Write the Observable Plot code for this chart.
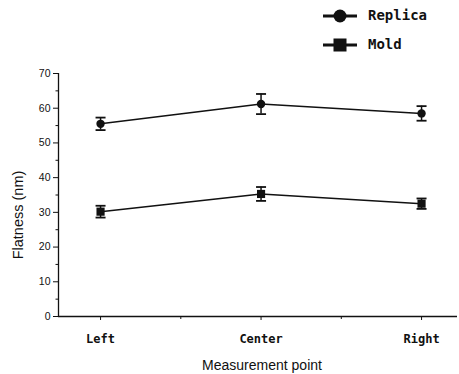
<!DOCTYPE html>
<html>
<head>
<meta charset="utf-8">
<script src="https://cdn.jsdelivr.net/npm/d3@7"></script>
<script src="https://cdn.jsdelivr.net/npm/@observablehq/plot@0.6"></script>
<style>
  html, body { margin: 0; padding: 0; background: #fff; }
  #wrap { position: relative; width: 459px; height: 374px; }
  #legend { position: absolute; left: 323px; top: 0; font-family: "DejaVu Sans Mono", monospace; font-size: 14px; font-weight: bold; color: #111; }
  .row { position: absolute; left: 0; height: 20px; width: 130px; }
  .row svg { position: absolute; left: 0; top: 0; }
  .row span { position: absolute; left: 45px; top: 1px; white-space: nowrap; }
</style>
</head>
<body>
<div id="wrap"><div id="legend"></div></div>
<script>
const categories = ["Left", "Center", "Right"];
const seriesNames = ["Replica", "Mold"];
const replicaMean = [55.5, 61.2, 58.5];
const replicaErr = [1.8, 2.9, 2.1];
const moldMean = [30.2, 35.3, 32.5];
const moldErr = [1.7, 2.0, 1.5];
const yTicks = [0, 10, 20, 30, 40, 50, 60, 70];
const yMinorTicks = [5, 15, 25, 35, 45, 55, 65];
const xMinorTicks = [0.5, 1.5];
const xDomain = [-0.262, 2.224];

const rows = [];
categories.forEach((c, i) => {
  rows.push({series: "Replica", i, cat: c, v: replicaMean[i], lo: replicaMean[i] - replicaErr[i], hi: replicaMean[i] + replicaErr[i]});
  rows.push({series: "Mold", i, cat: c, v: moldMean[i], lo: moldMean[i] - moldErr[i], hi: moldMean[i] + moldErr[i]});
});
const rep = rows.filter(d => d.series === "Replica");
const mol = rows.filter(d => d.series === "Mold");

const cap = {draw(ctx) { ctx.moveTo(-5, 0); ctx.lineTo(5, 0); }};
const ink = "#111";

const chart = Plot.plot({
  width: 459,
  height: 374,
  marginLeft: 58,
  marginRight: 2,
  marginTop: 73,
  marginBottom: 58,
  style: {fontFamily: "Liberation Sans, Arial, sans-serif", background: "white"},
  x: {domain: xDomain},
  y: {domain: [0, 70]},
  marks: [
    Plot.axisY({ticks: yTicks, tickSize: 5, tickPadding: 3, fontSize: 10.5, label: null, stroke: ink, fill: ink}),
    Plot.axisY({ticks: yMinorTicks, tickSize: 2.5, text: null, label: null, stroke: ink}),
    Plot.axisX({ticks: [0, 1, 2], tickFormat: i => categories[i], tickSize: 4, tickPadding: 14, fontSize: 12,
      fontWeight: "bold", fontFamily: "DejaVu Sans Mono, monospace", label: null, stroke: ink, fill: ink}),
    Plot.axisX({ticks: xMinorTicks, tickSize: 3, text: null, label: null, stroke: ink}),
    Plot.ruleX([xDomain[0]], {y1: 0, y2: 70, stroke: ink, strokeWidth: 1.3}),
    Plot.ruleY([0], {x1: xDomain[0], x2: xDomain[1], stroke: ink, strokeWidth: 1.3}),
    Plot.text(["Flatness (nm)"], {frameAnchor: "left", textAnchor: "middle", lineAnchor: "middle", rotate: -90, dx: -40, dy: 20, fontSize: 14.5, fill: ink}),
    Plot.text(["Measurement point"], {frameAnchor: "bottom", textAnchor: "middle", lineAnchor: "middle", dx: 4, dy: 49, fontSize: 14, fill: ink}),
    Plot.line(rep, {x: "i", y: "v", stroke: ink, strokeWidth: 1.5}),
    Plot.line(mol, {x: "i", y: "v", stroke: ink, strokeWidth: 1.5}),
    Plot.ruleX(rows, {x: "i", y1: "lo", y2: "hi", stroke: ink, strokeWidth: 1.5}),
    Plot.dot(rows, {x: "i", y: "lo", symbol: cap, stroke: ink, strokeWidth: 1.8}),
    Plot.dot(rows, {x: "i", y: "hi", symbol: cap, stroke: ink, strokeWidth: 1.8}),
    Plot.dot(rep, {x: "i", y: "v", symbol: "circle", r: 4.2, fill: ink, stroke: "none"}),
    Plot.dot(mol, {x: "i", y: "v", symbol: "square", r: 4.6, fill: ink, stroke: "none"})
  ]
});
document.getElementById("wrap").prepend(chart);

const legend = document.getElementById("legend");
seriesNames.forEach((name, k) => {
  const row = document.createElement("div");
  row.className = "row";
  row.style.top = (k === 0 ? 6 : 35) + "px";
  const marker = name === "Replica"
    ? '<circle cx="17" cy="10" r="6.5" fill="#111"/>'
    : '<rect x="10.5" y="3.5" width="13" height="13" fill="#111"/>';
  row.innerHTML = '<svg width="36" height="20"><line x1="0" x2="34" y1="10" y2="10" stroke="#111" stroke-width="3"/>' + marker + '</svg><span>' + name + '</span>';
  legend.appendChild(row);
});
</script>
</body>
</html>
